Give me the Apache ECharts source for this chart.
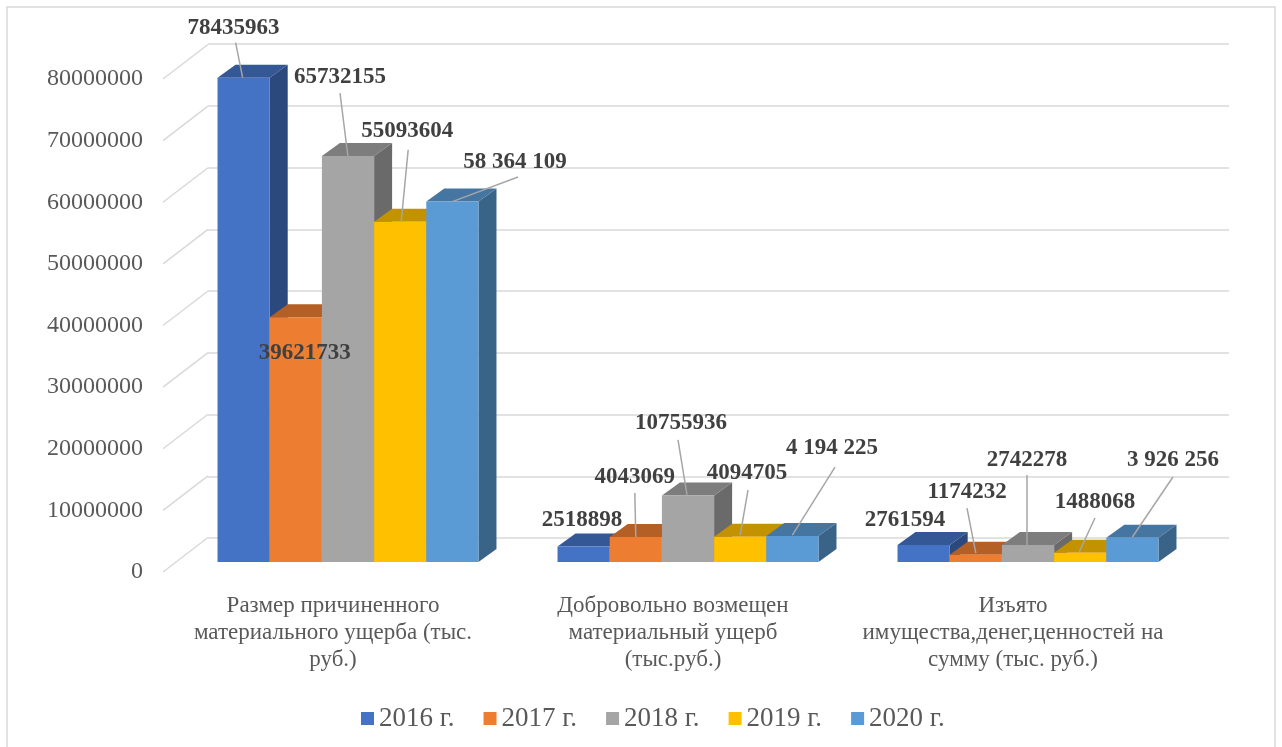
<!DOCTYPE html>
<html>
<head>
<meta charset="utf-8">
<script src="https://cdn.jsdelivr.net/npm/echarts@6/dist/echarts.min.js"></script>
<style>
html, body { margin: 0; background: #fff; }
#chart { width: 1282px; height: 747px; }
</style>
</head>
<body>
<div id="chart"></div>
<script>
// data
const categories = [
  'Размер причиненного\nматериального ущерба (тыс.\nруб.)',
  'Добровольно возмещен\nматериальный ущерб\n(тыс.руб.)',
  'Изъято\nимущества,денег,ценностей на\nсумму (тыс. руб.)'
];
const years = ['2016 г.', '2017 г.', '2018 г.', '2019 г.', '2020 г.'];
const v2016 = [78435963, 2518898, 2761594];
const v2017 = [39621733, 4043069, 1174232];
const v2018 = [65732155, 10755936, 2742278];
const v2019 = [55093604, 4094705, 1488068];
const v2020 = [58364109, 4194225, 3926256];
const yTicks = [0, 10000000, 20000000, 30000000, 40000000, 50000000, 60000000, 70000000, 80000000];

const yearValues = [v2016, v2017, v2018, v2019, v2020];

// styling
const palette = ['#4472C4', '#ED7D31', '#A5A5A5', '#FFC000', '#5B9BD5'];
const spacedYears = [false, false, false, false, true];
const serif = '"Liberation Serif", "Times New Roman", serif';
const DX = 18, DY = 13;          // bar depth (px)
const barShare = 0.1535;         // each bar = share of the category band

// label position relative to the top-front centre of the bar: t = text centre, l = leader line
const labelNudge = [
  [{ t: [-10, -50], l: [-8, -35, -1, 0] }, { t: [-1.6, -26.4] }, { t: [-18.6, -25] }],
  [{ t: [9, 36] }, { t: [-1, -60], l: [-1, -44, 0, 0] }, { t: [-8.8, -62.7], l: [-8.8, -46.7, 0, -1.7] }],
  [{ t: [-8, -79], l: [-8, -63, 0, 1] }, { t: [-7, -72.6], l: [-10, -55.6, -1, -0.6] }, { t: [-1, -85], l: [-1, -70, -1, 0] }],
  [{ t: [7, -91], l: [8, -72, 1, 0] }, { t: [6.8, -63.7], l: [7.8, -46.7, 0, -1.7] }, { t: [14.8, -50.8], l: [14.8, -34.8, -1, -0.8] }],
  [{ t: [62.6, -39.6], l: [65.6, -24.6, 0, 0] }, { t: [39.6, -88], l: [42.6, -69, 0, -1] }, { t: [40.6, -77.8], l: [40.6, -60.8, 0, -0.8] }]
];

function fmt(v, yi) {
  const s = String(v);
  return spacedYears[yi] ? s.replace(/\B(?=(\d{3})+(?!\d))/g, ' ') : s;
}

// darken a #rrggbb colour by factor k
function shade(hex, k) {
  const n = parseInt(hex.slice(1), 16);
  const r = Math.round(((n >> 16) & 255) * k);
  const g = Math.round(((n >> 8) & 255) * k);
  const b = Math.round((n & 255) * k);
  return 'rgb(' + r + ',' + g + ',' + b + ')';
}

function renderBar(yi) {
  return function (params, api) {
    const ci = api.value(0);
    const val = api.value(1);
    const base = api.coord([ci, 0]);
    const top = api.coord([ci, val]);
    const bw = api.size([1, 0])[0] * barShare;
    const x0 = base[0] - bw * years.length / 2 + bw * yi;
    const x1 = x0 + bw;
    const yb = base[1], yt = top[1];
    const c = palette[yi];
    const kids = [
      { type: 'polygon', z2: yi * 10 + 1,
        shape: { points: [[x1, yt], [x1 + DX, yt - DY], [x1 + DX, yb - DY], [x1, yb]] },
        style: { fill: shade(c, 0.64) } },
      { type: 'polygon', z2: yi * 10 + 1,
        shape: { points: [[x0, yt], [x0 + DX, yt - DY], [x1 + DX, yt - DY], [x1, yt]] },
        style: { fill: shade(c, 0.76) } },
      { type: 'rect', z2: yi * 10 + 2,
        shape: { x: x0, y: yt, width: bw, height: yb - yt },
        style: { fill: c } }
    ];
    const n = labelNudge[yi][ci];
    const ax = (x0 + x1) / 2;
    if (n.l) {
      kids.push({ type: 'line', z2: 100,
        shape: { x1: ax + n.l[0], y1: yt + n.l[1], x2: ax + n.l[2], y2: yt + n.l[3] },
        style: { stroke: '#a6a6a6', lineWidth: 1.5 } });
    }
    kids.push({ type: 'text', z2: 101, x: ax + n.t[0], y: yt + n.t[1],
      style: { text: fmt(val, yi), fill: '#404040', font: 'bold 23px ' + serif,
        align: 'center', verticalAlign: 'middle' } });
    return { type: 'group', children: kids };
  };
}

// side wall lines from the axis labels to the back wall
function renderWall(params, api) {
  const p = api.coord([0, api.value(1)]);
  const x = p[0] - api.size([1, 0])[0] / 2;
  return { type: 'line', shape: { x1: x, y1: p[1], x2: x + 45, y2: p[1] - 34.5 },
    style: { stroke: '#d9d9d9', lineWidth: 1.5 } };
}

const yBase = { type: 'value', min: 0, max: 80000000, interval: 10000000 };

let chart = echarts.init(document.getElementById('chart'));
chart.setOption({
  animation: false,
  backgroundColor: '#fff',
  graphic: [{
    type: 'rect', silent: true,
    shape: { x: 7, y: 7, width: 1268, height: 760 },
    style: { fill: 'none', stroke: '#d9d9d9', lineWidth: 1.5 }
  }],
  grid: [
    { left: 208, right: 53, top: 44, bottom: 209 },   // back wall
    { left: 178, width: 1020, top: 68, bottom: 185 }, // bars
    { left: 163, width: 1020, top: 79, bottom: 175 }  // front labels
  ],
  xAxis: [
    { gridIndex: 0, type: 'value', show: false },
    { gridIndex: 1, type: 'category', data: categories, show: false },
    { gridIndex: 2, type: 'category', data: categories,
      axisLine: { show: false }, axisTick: { show: false },
      axisLabel: { interval: 0, margin: 20, fontSize: 23, lineHeight: 27, color: '#595959', fontFamily: serif } }
  ],
  yAxis: [
    Object.assign({ gridIndex: 0, axisLabel: { show: false },
      axisLine: { show: false }, axisTick: { show: false },
      splitLine: { lineStyle: { color: '#d9d9d9', width: 1.5 } } }, yBase),
    Object.assign({ gridIndex: 1, show: false }, yBase),
    Object.assign({ gridIndex: 2, splitLine: { show: false },
      axisLine: { show: false }, axisTick: { show: false },
      axisLabel: { margin: 20, fontSize: 24, color: '#595959', fontFamily: serif,
        formatter: v => String(v) } }, yBase)
  ],
  legend: {
    data: years, left: 356, top: 700,
    icon: 'rect', itemWidth: 13, itemHeight: 13, itemGap: 29,
    textStyle: { fontSize: 27, color: '#595959', fontFamily: serif }
  },
  series: [
    { type: 'custom', xAxisIndex: 2, yAxisIndex: 2, silent: true,
      renderItem: renderWall, data: yTicks.map(v => [0, v]) }
  ].concat(years.map((name, yi) => ({
    name: name,
    type: 'custom',
    xAxisIndex: 1, yAxisIndex: 1,
    itemStyle: { color: palette[yi] },
    renderItem: renderBar(yi),
    data: yearValues[yi].map((v, ci) => [ci, v])
  })))
});
</script>
</body>
</html>
